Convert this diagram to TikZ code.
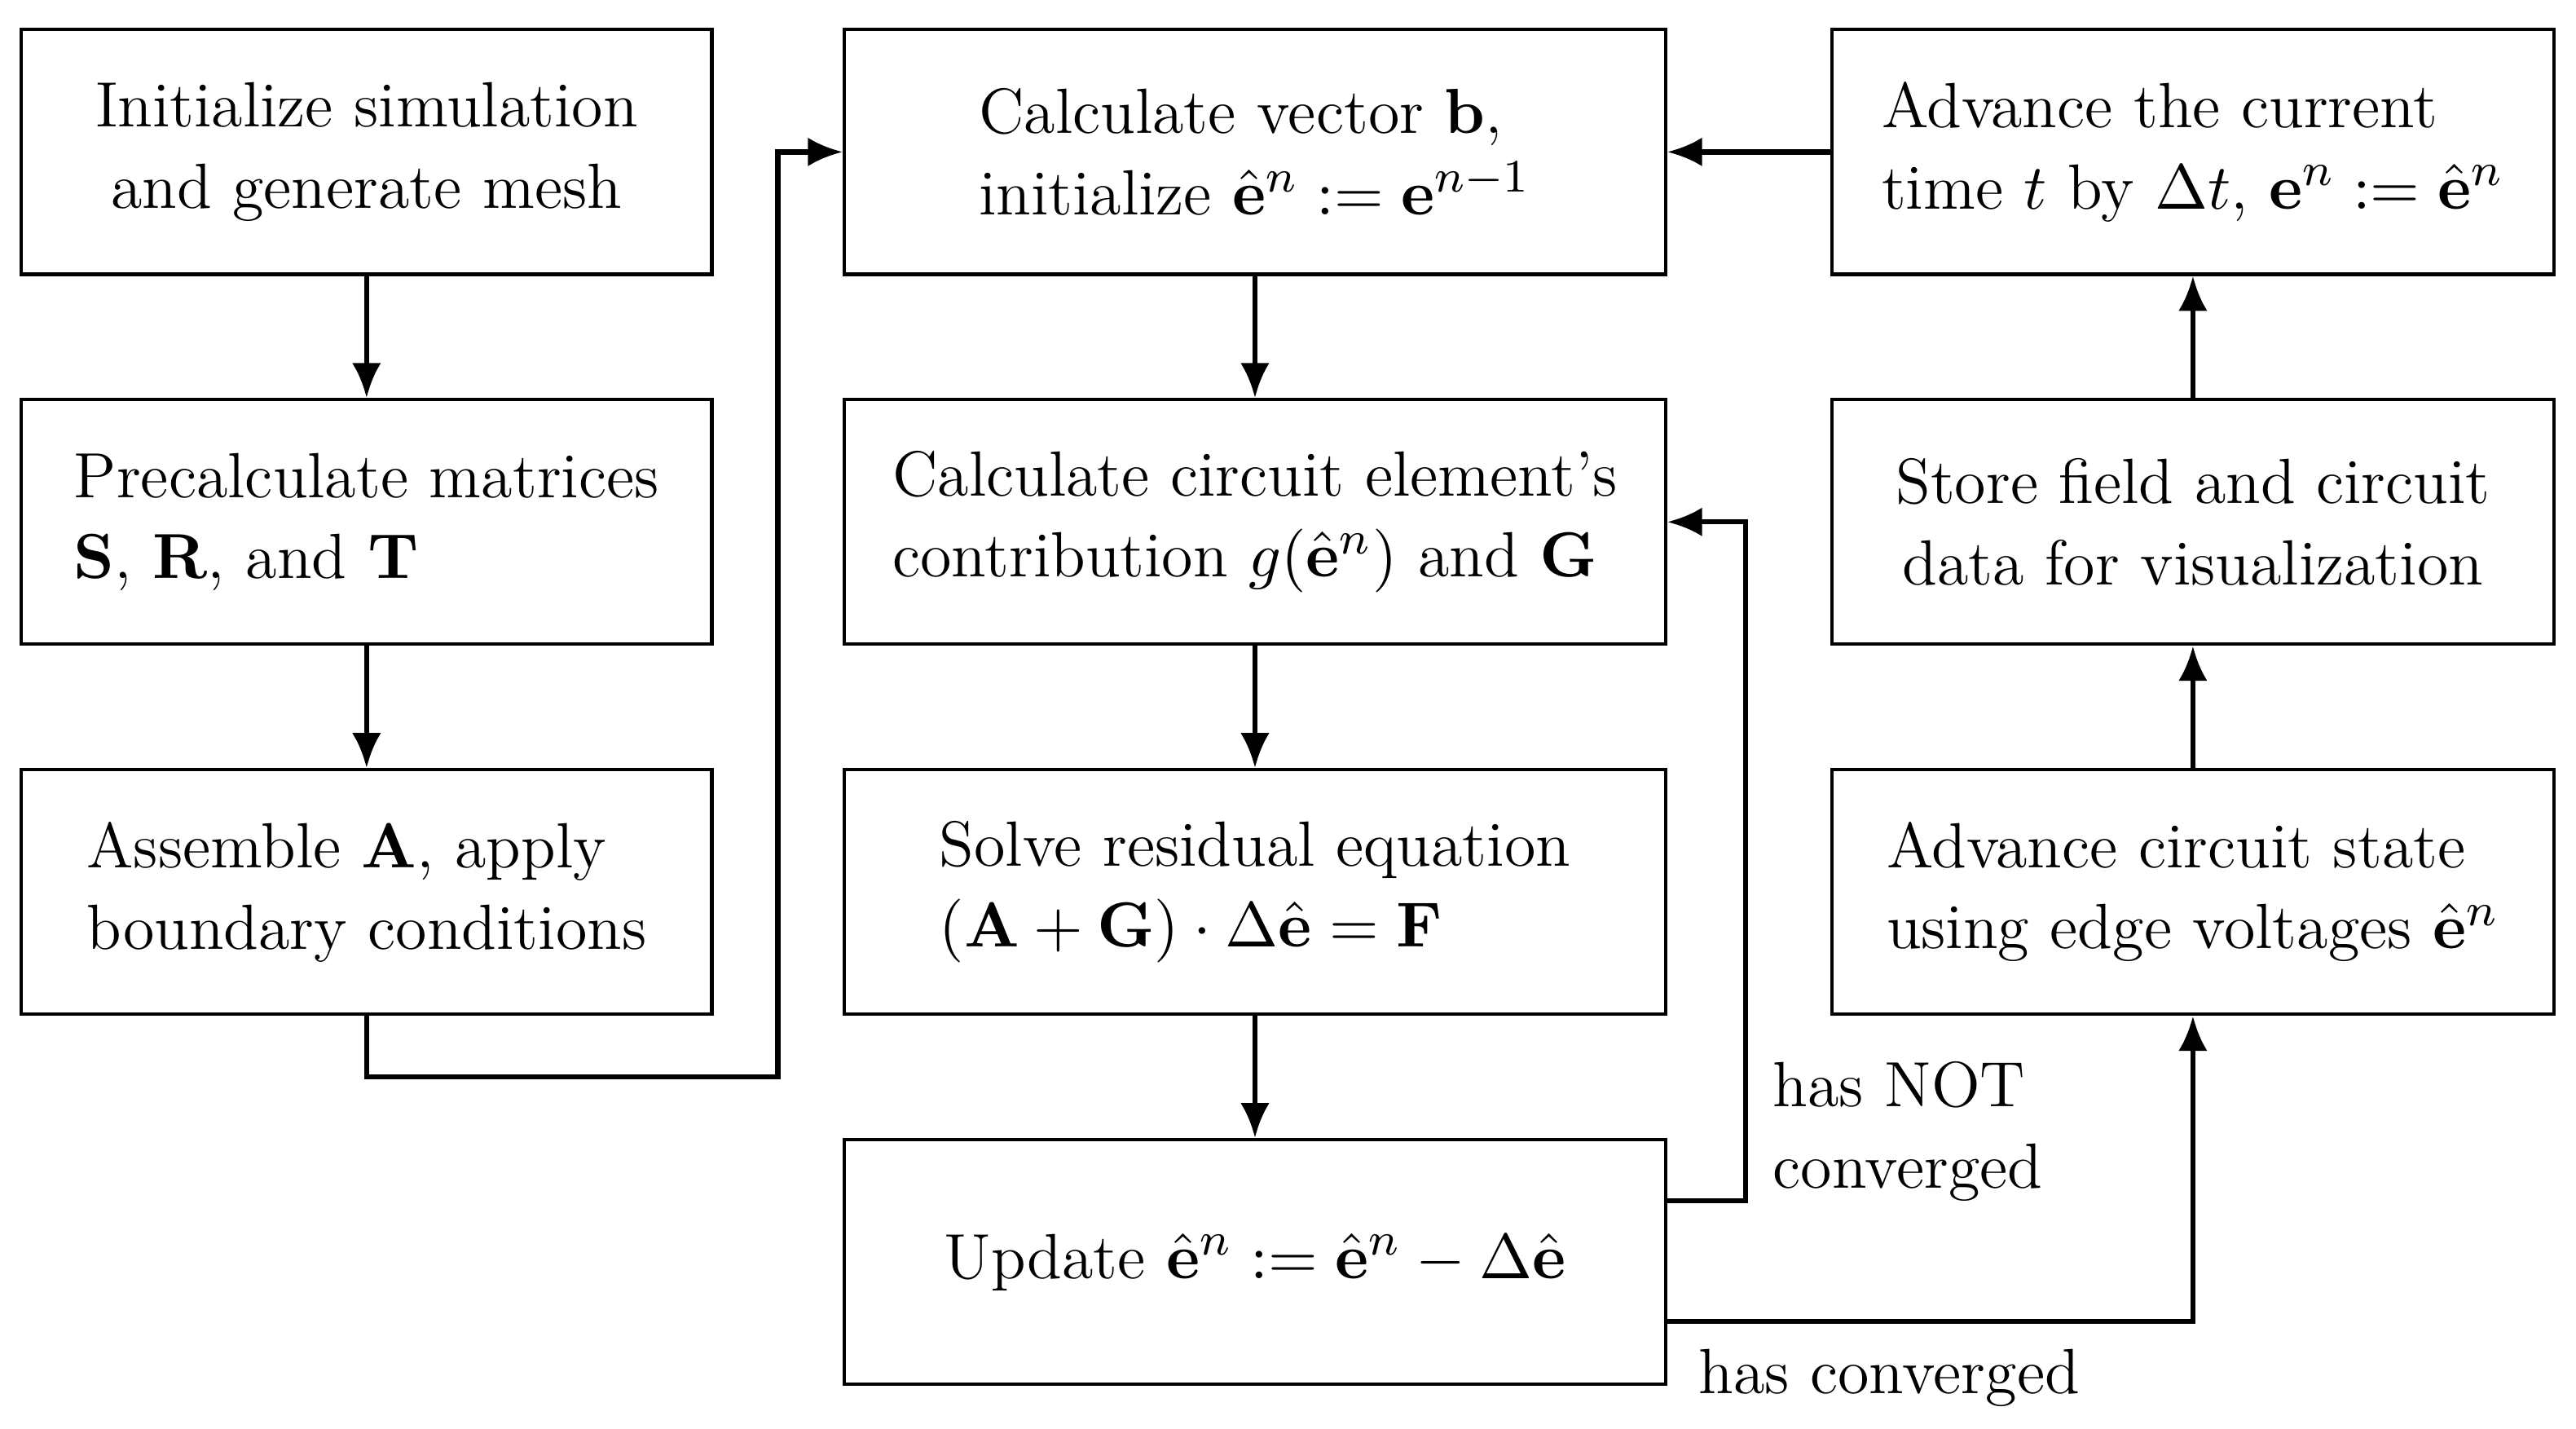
\documentclass[tikz,border=0pt]{standalone}
\usetikzlibrary{arrows.meta}
\begin{document}
\begin{tikzpicture}[x=0.01cm,y=-0.01cm,
  box/.style={draw,line width=0.6pt,inner sep=0pt,align=center,font=\fontsize{11}{14}\selectfont},
  b1/.style={box,minimum width=4.18cm,minimum height=1.48cm},
  b2/.style={box,minimum width=4.97cm,minimum height=1.48cm},
  b3/.style={box,minimum width=4.37cm,minimum height=1.48cm},
  arr/.style={line width=0.9pt,-{Latex[length=6pt,width=5pt]}},
  lbl/.style={font=\fontsize{11}{14}\selectfont,align=left,inner sep=0pt}]
\useasboundingbox (0,0) rectangle (1560,865);
\node[b1] (a1) at (222,92) {Initialize simulation\\and generate mesh};
\node[b1,align=left] (a2) at (222,316) {Precalculate matrices\\$\mathbf{S}$, $\mathbf{R}$, and $\mathbf{T}$};
\node[b1,align=left] (a3) at (222,540) {Assemble $\mathbf{A}$, apply\\boundary conditions};
\node[b2,align=left] (c1) at (760,92) {Calculate vector $\mathbf{b}$,\\initialize $\hat{\mathbf{e}}^n := \mathbf{e}^{n-1}$};
\node[b2,align=left] (c2) at (760,316) {Calculate circuit element's\\contribution $g(\hat{\mathbf{e}}^n)$ and $\mathbf{G}$};
\node[b2,align=left] (c3) at (760,540) {Solve residual equation\\$(\mathbf{A}+\mathbf{G})\cdot\Delta\hat{\mathbf{e}} = \mathbf{F}$};
\node[b2] (c4) at (760,764) {Update $\hat{\mathbf{e}}^n := \hat{\mathbf{e}}^n - \Delta\hat{\mathbf{e}}$};
\node[b3,align=left] (d1) at (1328,92) {Advance the current\\time $t$ by $\Delta t$, $\mathbf{e}^n := \hat{\mathbf{e}}^n$};
\node[b3] (d2) at (1328,316) {Store field and circuit\\data for visualization};
\node[b3,align=left] (d3) at (1328,540) {Advance circuit state\\using edge voltages $\hat{\mathbf{e}}^n$};
\draw[arr] (a1) -- (a2);
\draw[arr] (a2) -- (a3);
\coordinate (p1) at (222,652);
\coordinate (p2) at (471,652);
\coordinate (p3) at (471,92);
\draw[arr] (a3.south) -- (p1) -- (p2) -- (p3) -- (c1.west);
\draw[arr] (c1) -- (c2);
\draw[arr] (c2) -- (c3);
\draw[arr] (c3) -- (c4);
\coordinate (q1) at (1057,727);
\coordinate (q2) at (1057,316);
\draw[arr] (c4.east |- q1) -- (q1) -- (q2) -- (c2.east);
\coordinate (r1) at (1328,800);
\draw[arr] (c4.east |- r1) -- (r1) -- (d3.south);
\draw[arr] (d3) -- (d2);
\draw[arr] (d2) -- (d1);
\draw[arr] (d1) -- (c1);
\node[lbl,anchor=north west] (l1) at (1073,642) {has NOT\\converged};
\node[lbl,anchor=north west] (l2) at (1028,816) {has converged};
\end{tikzpicture}
\end{document}
